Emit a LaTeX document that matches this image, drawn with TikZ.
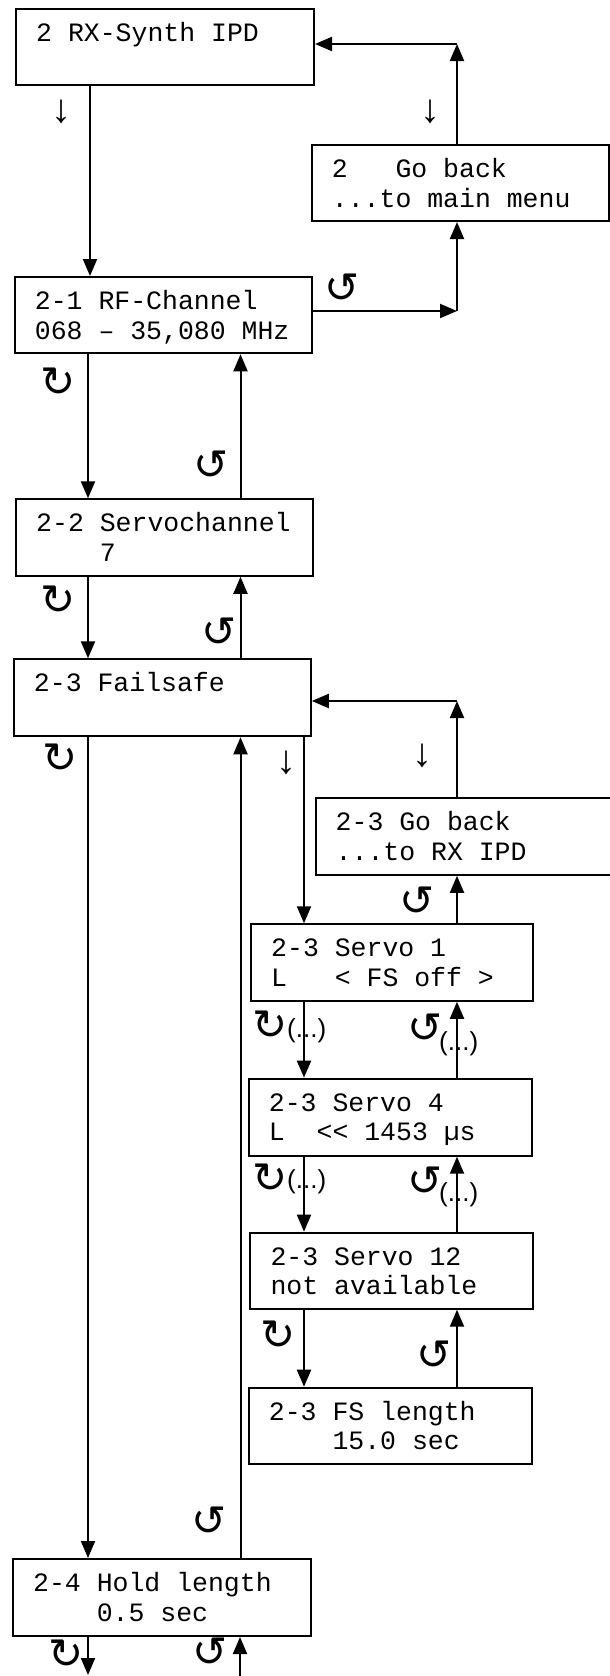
\documentclass[tikz,border=0pt]{standalone}
\usepackage{fontspec}
\usetikzlibrary{arrows.meta,calc}
\newfontfamily\monof{Liberation Mono}
\newfontfamily\symf{DejaVu Sans}
\newfontfamily\arrf{Liberation Sans}
\begin{document}
\begin{tikzpicture}[x=1pt,y=-1pt,
  box/.style={draw,line width=2pt,rectangle,inner sep=0pt,anchor=north west},
  txt/.style={anchor=base west,inner sep=0pt,font=\monof\fontsize{26.5}{30}\selectfont},
  conn/.style={line width=2pt,-{Triangle[width=14pt,length=17pt]}},
  rot/.style={inner sep=0pt,font=\symf\fontsize{42}{42}\selectfont},
  dn/.style={inner sep=0pt,font=\arrf\fontsize{40}{40}\selectfont},
  dots/.style={anchor=base west,inner sep=0pt,font=\arrf\fontsize{26}{26}\selectfont},
]
\useasboundingbox[fill=white] (0,0) rectangle (610,1676);
% boxes
\node[box,minimum width=298pt,minimum height=76.5pt] (A) at (15,7.5) {};
\node[box,minimum width=297pt,minimum height=76pt] (G) at (310.7,144) {};
\node[box,minimum width=297.6pt,minimum height=76.3pt] (B) at (13.7,276) {};
\node[box,minimum width=297pt,minimum height=76.5pt] (C) at (15,498.3) {};
\node[box,minimum width=297pt,minimum height=77pt] (D) at (12.8,658.3) {};
\node[box,minimum width=298pt,minimum height=76.5pt] (E) at (314.5,797.3) {};
\node[box,minimum width=281.5pt,minimum height=76.5pt] (S1) at (250,923.3) {};
\node[box,minimum width=283.3pt,minimum height=77pt] (S4) at (247.7,1077.7) {};
\node[box,minimum width=282.5pt,minimum height=76pt] (S12) at (249.3,1231.7) {};
\node[box,minimum width=283.3pt,minimum height=76.3pt] (F) at (247.7,1386.7) {};
\node[box,minimum width=298pt,minimum height=77pt] (H) at (12,1558) {};
% texts
\node[txt] (A1) at ($(A.north west)+(21,33.5)$) {2 RX-Synth IPD};
\node[txt] (G1) at ($(G.north west)+(21,33.5)$) {2~~~Go back};
\node[txt] (G2) at ($(G.north west)+(21,63)$) {...to main menu};
\node[txt] (B1) at ($(B.north west)+(21,33.5)$) {2-1 RF-Channel};
\node[txt] (B2) at ($(B.north west)+(21,63)$) {068 – 35,080 MHz};
\node[txt] (C1) at ($(C.north west)+(21,33.5)$) {2-2 Servochannel};
\node[txt] (C2) at ($(C.north west)+(21,63)$) {~~~~7};
\node[txt] (D1) at ($(D.north west)+(21,33.5)$) {2-3 Failsafe};
\node[txt] (E1) at ($(E.north west)+(21,33.5)$) {2-3 Go back};
\node[txt] (E2) at ($(E.north west)+(21,63)$) {...to RX IPD};
\node[txt] (S11) at ($(S1.north west)+(21,33.5)$) {2-3 Servo 1};
\node[txt] (S12t) at ($(S1.north west)+(21,63)$) {L~~~<{} FS off >{}};
\node[txt] (S41) at ($(S4.north west)+(21,33.5)$) {2-3 Servo 4};
\node[txt] (S42) at ($(S4.north west)+(21,63)$) {L~~<{}<{} 1453 µs};
\node[txt] (S121) at ($(S12.north west)+(21,33.5)$) {2-3 Servo 12};
\node[txt] (S122) at ($(S12.north west)+(21,63)$) {not available};
\node[txt] (F1) at ($(F.north west)+(21,33.5)$) {2-3 FS length};
\node[txt] (F2) at ($(F.north west)+(21,63)$) {~~~~15.0 sec};
\node[txt] (H1) at ($(H.north west)+(21,33.5)$) {2-4 Hold length};
\node[txt] (H2) at ($(H.north west)+(21,63)$) {~~~~0.5 sec};
% columns
\coordinate (xa) at (90,0);
\coordinate (xb) at (88,0);
\coordinate (xu) at (240.5,0);
\coordinate (xc) at (304,0);
\coordinate (xd) at (457,0);
\coordinate (c1) at (457,311);
\coordinate (c2) at (457,44);
\coordinate (c3) at (457,701);
\coordinate (hb1) at (88,1675);
\coordinate (hb2) at (240,1676);
% connectors
\draw[conn] (A.south -| xa) -- (B.north -| xa);
\draw[conn] (B.east |- c1) -- (c1);
\draw[conn] (c1) -- (G.south -| c1);
\draw[conn] (G.north -| c2) -- (c2);
\draw[conn] (c2) -- (A.east |- c2);
\draw[conn] (B.south -| xb) -- (C.north -| xb);
\draw[conn] (C.north -| xu) -- (B.south -| xu);
\draw[conn] (C.south -| xb) -- (D.north -| xb);
\draw[conn] (D.north -| xu) -- (C.south -| xu);
\draw[conn] (D.south -| xb) -- (H.north -| xb);
\draw[conn] (H.north -| xu) -- (D.south -| xu);
\draw[conn] (E.north -| c3) -- (c3);
\draw[conn] (c3) -- (D.east |- c3);
\draw[conn] (D.south -| xc) -- (S1.north -| xc);
\draw[conn] (S1.north -| xd) -- (E.south -| xd);
\draw[conn] (S1.south -| xc) -- (S4.north -| xc);
\draw[conn] (S4.north -| xd) -- (S1.south -| xd);
\draw[conn] (S4.south -| xc) -- (S12.north -| xc);
\draw[conn] (S12.north -| xd) -- (S4.south -| xd);
\draw[conn] (S12.south -| xc) -- (F.north -| xc);
\draw[conn] (F.north -| xd) -- (S12.south -| xd);
\draw[conn] (H.south -| xb) -- (hb1);
\draw[conn] (hb2) -- (H.south -| hb2);
% symbols
\node[dn] (d1) at (61,112) {↓};
\node[dn] (d2) at (430,112) {↓};
\node[dn] (d3) at (286.7,763) {↓};
\node[dn] (d4) at (422.7,756) {↓};
\node[rot] (r1) at (58.5,382.5) {↻};
\node[rot] (r2) at (58,600.5) {↻};
\node[rot] (r3) at (59.7,758) {↻};
\node[rot] (r4) at (270.5,1025.5) {↻};
\node[rot] (r5) at (270.5,1178.5) {↻};
\node[rot] (r6) at (278.5,1335) {↻};
\node[rot] (r7) at (66.5,1654.5) {↻};
\node[rot] (l1) at (342.5,288.5) {↺};
\node[rot] (l2) at (211,465.5) {↺};
\node[rot] (l3) at (219,632.5) {↺};
\node[rot] (l4) at (416.7,901.5) {↺};
\node[rot] (l5) at (425.5,1028.5) {↺};
\node[rot] (l6) at (425.5,1181.5) {↺};
\node[rot] (l7) at (434.5,1355.5) {↺};
\node[rot] (l8) at (209.5,1521.5) {↺};
\node[rot] (l9) at (210.5,1652.5) {↺};
\node[dots] (p1) at (287,1037) {(...)};
\node[dots] (p2) at (287,1188) {(...)};
\node[dots] (p3) at (439,1050) {(...)};
\node[dots] (p4) at (439,1201.7) {(...)};
\end{tikzpicture}
\end{document}
